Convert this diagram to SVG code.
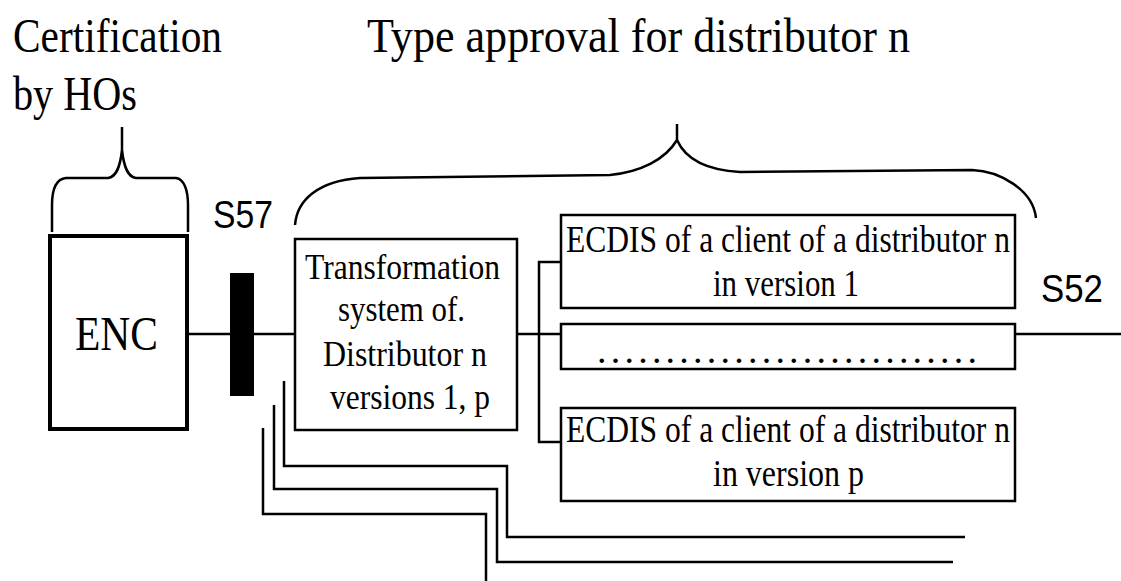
<svg xmlns="http://www.w3.org/2000/svg" width="1121" height="581" viewBox="0 0 1121 581">
  <style>
    .bg { fill: #ffffff; }
    .box { fill: #ffffff; stroke: #000000; stroke-width: 2.5; }
    .thick { fill: #ffffff; stroke: #000000; stroke-width: 4; }
    .line { fill: none; stroke: #000000; stroke-width: 2.5; }
    .brace { fill: none; stroke: #000000; stroke-width: 2.5; stroke-linejoin: round; }
    .serif { font-family: "Liberation Serif", "Times New Roman", serif; fill: #000000; }
    .sans { font-family: "Liberation Sans", Arial, sans-serif; fill: #000000; }
    .big { font-size: 48px; }
    .mid { font-size: 38px; }
    .sm { font-size: 36px; }
    .lbl { font-size: 39px; }
  </style>
  <rect class="bg" x="0" y="0" width="1121" height="581"/>

  <g id="titles">
    <text class="serif big" x="13" y="52" textLength="209" lengthAdjust="spacingAndGlyphs">Certification</text>
    <text class="serif big" x="13" y="110" textLength="124" lengthAdjust="spacingAndGlyphs">by HOs</text>
    <text class="serif big" x="367" y="52" textLength="543" lengthAdjust="spacingAndGlyphs">Type approval for distributor n</text>
  </g>

  <g id="braces">
    <path class="brace" d="M 52,232 L 52,205 C 52,190 56,179 66,178 L 108,178 C 116,177 120,168 122,150 L 122,127 M 122,150 C 124,168 128,177 136,178 L 176,178 C 184,179 188,190 188,205 L 188,232"/>
    <path class="brace" d="M 295,225 C 297,200 318,181 360,178 L 610,175 C 640,172 665,160 677,140 L 677,124 M 677,140 C 685,158 705,170 740,172 L 972,170 C 1000,171 1033,190 1036,218"/>
  </g>

  <g id="connectors">
    <path class="line" d="M 187,334 H 295"/>
    <path class="line" d="M 517,334 H 561"/>
    <path class="line" d="M 561,262 H 539 V 442 H 561"/>
    <path class="line" d="M 1015,334 H 1121"/>
    <path class="line" d="M 284,381 V 466 H 507 V 537 H 965"/>
    <path class="line" d="M 274,405 V 489 H 497 V 562 H 953"/>
    <path class="line" d="M 263,428 V 514 H 486 V 581"/>
  </g>

  <g id="enc">
    <rect class="thick" x="50" y="236" width="137" height="193"/>
    <text class="serif big" x="75" y="350" textLength="83" lengthAdjust="spacingAndGlyphs">ENC</text>
  </g>

  <g id="s57">
    <rect x="230" y="273" width="24" height="123" fill="#000000"/>
    <text class="sans lbl" x="213" y="228" textLength="60" lengthAdjust="spacingAndGlyphs">S57</text>
  </g>

  <g id="transformation">
    <rect class="box" x="295" y="239" width="222" height="191"/>
    <text class="serif sm" x="305" y="279" textLength="195" lengthAdjust="spacingAndGlyphs">Transformation</text>
    <text class="serif sm" x="338" y="321" textLength="127" lengthAdjust="spacingAndGlyphs">system of.</text>
    <text class="serif sm" x="323" y="366" textLength="164" lengthAdjust="spacingAndGlyphs">Distributor n</text>
    <text class="serif sm" x="330" y="409" textLength="160" lengthAdjust="spacingAndGlyphs">versions 1, p</text>
  </g>

  <g id="ecdis1">
    <rect class="box" x="561" y="215" width="454" height="93"/>
    <text class="serif mid" x="566" y="252" textLength="444" lengthAdjust="spacingAndGlyphs">ECDIS of a client of a distributor n</text>
    <text class="serif mid" x="713" y="296" textLength="146" lengthAdjust="spacingAndGlyphs">in version 1</text>
  </g>

  <g id="ecdis-dots">
    <rect class="box" x="561" y="324" width="454" height="45"/>
    <text class="serif mid" x="597" y="363" textLength="380" lengthAdjust="spacing">............................</text>
  </g>

  <g id="ecdisp">
    <rect class="box" x="561" y="408" width="454" height="93"/>
    <text class="serif mid" x="566" y="442" textLength="444" lengthAdjust="spacingAndGlyphs">ECDIS of a client of a distributor n</text>
    <text class="serif mid" x="713" y="486" textLength="151" lengthAdjust="spacingAndGlyphs">in version p</text>
  </g>

  <g id="s52">
    <text class="sans lbl" x="1041" y="302" textLength="62" lengthAdjust="spacingAndGlyphs">S52</text>
  </g>
</svg>
